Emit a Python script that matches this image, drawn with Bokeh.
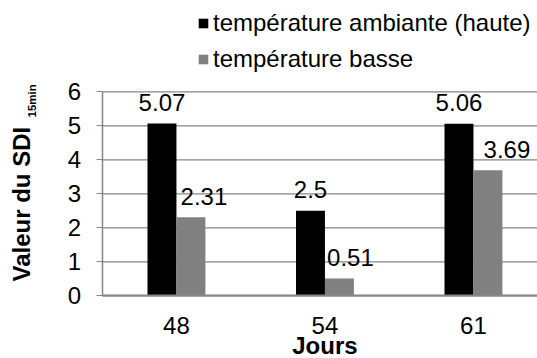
import math
from bokeh.plotting import figure
from bokeh.models import (ColumnDataSource, FixedTicker, Legend, LegendItem, Label,
                          Range1d)
from bokeh.embed import file_html
from bokeh.resources import INLINE

# ---- data ----
categories = ["48", "54", "61"]
haute = [5.07, 2.5, 5.06]
basse = [2.31, 0.51, 3.69]
series_names = ["température ambiante (haute)", "température basse"]
y_ticks = [0, 1, 2, 3, 4, 5, 6]
y_label_main = "Valeur du SDI"
y_label_sub = "15min"
x_label = "Jours"

# ---- style / layout (pixels) ----
FONT = "Liberation Sans"
BLACK = "#000000"
GREY = "#808080"
AXIS_GREY = "#868686"
FS = "24px"
W, H = 537, 358
X0_PX, PX_PER_CAT = 101.7, 148.5     # page x of the y axis, width of one category
Y0_PX, PX_PER_UNIT = 295.3, 34.0     # page y of value 0, pixels per unit
bar_w = 0.195
haute_dx = [0, 0, 0]
basse_dx = [13, 11, 19]
label_dy = 21

def dx(px):
    return (px - X0_PX) / PX_PER_CAT
def dy(py):
    return (Y0_PX - py) / PX_PER_UNIT

p = figure(width=W, height=H, output_backend="svg", toolbar_location=None,
           x_range=Range1d(dx(0), dx(W)), y_range=Range1d(dy(H), dy(0)),
           min_border=0)
p.title.visible = False
p.outline_line_color = None
p.background_fill_color = "white"
p.border_fill_color = "white"
p.xgrid.visible = False
p.ygrid.visible = False

x_end = dx(W)
xc = [i + 0.5 for i in range(len(categories))]

# horizontal grid lines at the y ticks, limited to the plot area
p.segment(x0=[0] * len(y_ticks), x1=[x_end] * len(y_ticks), y0=y_ticks, y1=y_ticks,
          line_color=AXIS_GREY, line_width=1.2)

src = ColumnDataSource(dict(
    x1=[x - bar_w / 2 for x in xc], x2=[x + bar_w / 2 for x in xc],
    haute=haute, basse=basse,
))
r1 = p.vbar(x="x1", top="haute", width=bar_w, source=src, fill_color=BLACK, line_color=None)
r2 = p.vbar(x="x2", top="basse", width=bar_w, source=src, fill_color=GREY, line_color=None)

# data labels
for i in range(len(categories)):
    p.add_layout(Label(x=src.data["x1"][i], y=haute[i], text=str(haute[i]),
                       x_offset=haute_dx[i], y_offset=label_dy, text_align="center",
                       text_baseline="middle", text_font=FONT, text_font_size=FS,
                       text_color="black"))
    p.add_layout(Label(x=src.data["x2"][i], y=basse[i], text=str(basse[i]),
                       x_offset=basse_dx[i], y_offset=label_dy, text_align="center",
                       text_baseline="middle", text_font=FONT, text_font_size=FS,
                       text_color="black"))

# axes at fixed positions (x = 0, y = 0)
p.xaxis.fixed_location = 0
p.xaxis.bounds = (0, x_end)
p.xaxis.ticker = FixedTicker(ticks=xc)
p.xaxis.major_label_overrides = {x: c for x, c in zip(xc, categories)}
p.xaxis.major_tick_line_color = None
p.xaxis.minor_tick_line_color = None
p.xaxis.axis_line_color = AXIS_GREY
p.xaxis.axis_line_width = 2
p.xaxis.major_label_standoff = 15
p.xaxis.major_label_text_font = FONT
p.xaxis.major_label_text_font_size = FS
p.xaxis.major_label_text_color = "black"

p.yaxis.fixed_location = 0
p.yaxis.bounds = (0, 6)
p.yaxis.ticker = FixedTicker(ticks=y_ticks)
p.yaxis.major_tick_out = 6
p.yaxis.major_tick_in = 0
p.yaxis.major_tick_line_color = AXIS_GREY
p.yaxis.minor_tick_line_color = None
p.yaxis.axis_line_color = AXIS_GREY
p.yaxis.axis_line_width = 1.5
p.yaxis.major_label_standoff = 15
p.yaxis.major_label_text_font = FONT
p.yaxis.major_label_text_font_size = FS
p.yaxis.major_label_text_color = "black"

# axis titles
p.add_layout(Label(x=dx(21), y=dy(281), text=y_label_main, angle=math.pi / 2,
                   text_align="left", text_baseline="middle", text_font=FONT,
                   text_font_size=FS, text_font_style="bold", text_color="black"))
p.add_layout(Label(x=dx(31.5), y=dy(117), text=y_label_sub, angle=math.pi / 2,
                   text_align="left", text_baseline="middle", text_font=FONT,
                   text_font_size="11.5px", text_font_style="bold", text_color="black"))
p.add_layout(Label(x=xc[1], y=dy(344.5), text=x_label, text_align="center",
                   text_baseline="middle", text_font=FONT, text_font_size=FS,
                   text_font_style="bold", text_color="black"))

legend = Legend(items=[LegendItem(label=series_names[0], renderers=[r1]),
                       LegendItem(label=series_names[1], renderers=[r2])],
                location=(197, H - 10.5 - 62), orientation="vertical",
                glyph_width=12, glyph_height=12, label_standoff=4, spacing=8,
                label_height=27, padding=0, margin=0, border_line_color=None,
                background_fill_alpha=0, label_text_font=FONT,
                label_text_font_size=FS, label_text_color="black")
p.add_layout(legend, "center")

open("out.html", "w").write(file_html(p, INLINE))
